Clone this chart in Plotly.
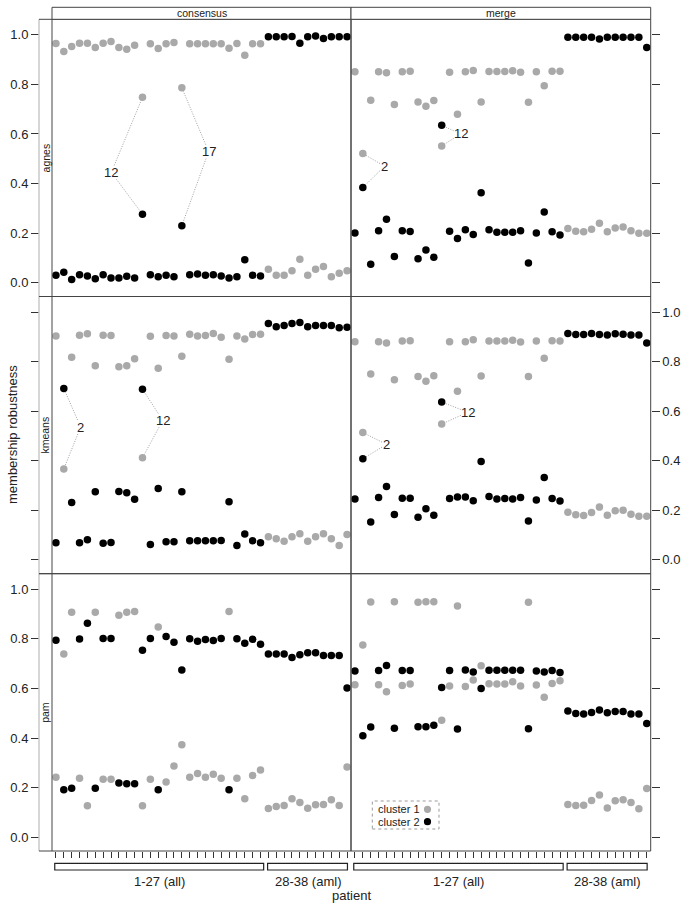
import plotly.graph_objects as go

# ---------------- data ----------------
patients = list(range(1, 39))
methods = ["agnes", "kmeans", "pam"]
variants = ["consensus", "merge"]
group_labels = ["1-27 (all)", "28-38 (aml)"]
group_ranges = [(1, 27), (28, 38)]
yticks = [0.0, 0.2, 0.4, 0.6, 0.8, 1.0]

agnes_consensus_c1 = [0.965, 0.933, 0.953, 0.966, 0.966, 0.949, 0.966, 0.973, 0.949, 0.942, 0.958, 0.748,
                      0.964, 0.945, 0.964, 0.969, 0.787, 0.964, 0.964, 0.964, 0.964, 0.964, 0.946, 0.965,
                      0.918, 0.964, 0.964,
                      0.054, 0.030, 0.030, 0.048, 0.094, 0.030, 0.054, 0.065, 0.024, 0.038, 0.048]
agnes_consensus_c2 = [0.030, 0.042, 0.013, 0.032, 0.027, 0.016, 0.032, 0.019, 0.019, 0.026, 0.019, 0.276,
                      0.032, 0.024, 0.030, 0.024, 0.230, 0.032, 0.035, 0.030, 0.032, 0.027, 0.019, 0.024,
                      0.092, 0.030, 0.027,
                      0.993, 0.993, 0.993, 0.994, 0.966, 0.993, 0.996, 0.985, 0.993, 0.993, 0.993]
agnes_merge_c1 = [0.851, 0.521, 0.736, 0.851, 0.847, 0.719, 0.851, 0.853, 0.729, 0.712, 0.735, 0.552,
                  0.849, 0.680, 0.851, 0.856, 0.729, 0.852, 0.852, 0.852, 0.855, 0.849, 0.728, 0.851,
                  0.795, 0.853, 0.853,
                  0.218, 0.207, 0.205, 0.215, 0.240, 0.205, 0.221, 0.225, 0.209, 0.199, 0.199]
agnes_merge_c2 = [0.200, 0.384, 0.074, 0.209, 0.256, 0.105, 0.209, 0.206, 0.096, 0.132, 0.102, 0.635,
                  0.207, 0.178, 0.213, 0.194, 0.363, 0.213, 0.203, 0.203, 0.203, 0.209, 0.079, 0.200,
                  0.285, 0.205, 0.192,
                  0.991, 0.991, 0.991, 0.991, 0.983, 0.991, 0.991, 0.991, 0.991, 0.991, 0.949]
kmeans_consensus_c1 = [0.904, 0.367, 0.818, 0.907, 0.913, 0.783, 0.907, 0.906, 0.779, 0.783, 0.812, 0.412,
                       0.903, 0.773, 0.906, 0.904, 0.822, 0.911, 0.904, 0.906, 0.914, 0.898, 0.810, 0.904,
                       0.891, 0.910, 0.911,
                       0.093, 0.085, 0.075, 0.093, 0.105, 0.075, 0.093, 0.105, 0.085, 0.058, 0.102]
kmeans_consensus_c2 = [0.069, 0.692, 0.231, 0.069, 0.081, 0.275, 0.067, 0.070, 0.276, 0.271, 0.245, 0.689,
                       0.062, 0.288, 0.073, 0.073, 0.275, 0.077, 0.077, 0.077, 0.077, 0.078, 0.234, 0.058,
                       0.104, 0.077, 0.069,
                       0.954, 0.941, 0.946, 0.954, 0.958, 0.941, 0.946, 0.946, 0.946, 0.937, 0.939]
kmeans_merge_c1 = [0.880, 0.514, 0.750, 0.880, 0.875, 0.727, 0.883, 0.884, 0.740, 0.721, 0.743, 0.548,
                   0.880, 0.681, 0.880, 0.888, 0.742, 0.883, 0.883, 0.883, 0.886, 0.879, 0.740, 0.883,
                   0.814, 0.884, 0.883,
                   0.192, 0.182, 0.179, 0.191, 0.213, 0.180, 0.198, 0.200, 0.184, 0.176, 0.176]
kmeans_merge_c2 = [0.246, 0.408, 0.153, 0.252, 0.296, 0.183, 0.249, 0.249, 0.172, 0.206, 0.180, 0.637,
                   0.248, 0.254, 0.254, 0.238, 0.397, 0.256, 0.246, 0.248, 0.246, 0.252, 0.157, 0.242,
                   0.332, 0.248, 0.237,
                   0.914, 0.910, 0.910, 0.914, 0.910, 0.908, 0.913, 0.911, 0.908, 0.908, 0.875]
pam_consensus_c1 = [0.242, 0.739, 0.907, 0.238, 0.127, 0.907, 0.234, 0.234, 0.895, 0.907, 0.910, 0.127,
                    0.234, 0.848, 0.222, 0.287, 0.373, 0.242, 0.257, 0.242, 0.254, 0.238, 0.910, 0.238,
                    0.155, 0.249, 0.271,
                    0.116, 0.124, 0.128, 0.155, 0.140, 0.117, 0.131, 0.132, 0.151, 0.128, 0.283]
pam_consensus_c2 = [0.794, 0.191, 0.197, 0.799, 0.863, 0.197, 0.802, 0.802, 0.218, 0.215, 0.215, 0.754,
                    0.802, 0.191, 0.810, 0.786, 0.674, 0.801, 0.790, 0.797, 0.793, 0.802, 0.191, 0.801,
                    0.782, 0.798, 0.778,
                    0.739, 0.739, 0.739, 0.725, 0.736, 0.744, 0.744, 0.733, 0.733, 0.733, 0.602]
pam_merge_c1 = [0.615, 0.775, 0.949, 0.615, 0.587, 0.950, 0.612, 0.618, 0.948, 0.950, 0.950, 0.472,
                0.610, 0.933, 0.608, 0.634, 0.692, 0.619, 0.618, 0.618, 0.627, 0.610, 0.948, 0.614,
                0.564, 0.620, 0.631,
                0.132, 0.128, 0.129, 0.148, 0.170, 0.118, 0.147, 0.151, 0.140, 0.114, 0.196]
pam_merge_c2 = [0.670, 0.409, 0.444, 0.672, 0.693, 0.439, 0.672, 0.672, 0.445, 0.445, 0.451, 0.604,
                0.672, 0.436, 0.674, 0.666, 0.600, 0.673, 0.673, 0.673, 0.673, 0.673, 0.437, 0.670,
                0.666, 0.672, 0.664,
                0.509, 0.499, 0.497, 0.503, 0.513, 0.502, 0.507, 0.507, 0.497, 0.497, 0.459]

panel_data = {
    ("agnes", "consensus"): (agnes_consensus_c1, agnes_consensus_c2),
    ("agnes", "merge"): (agnes_merge_c1, agnes_merge_c2),
    ("kmeans", "consensus"): (kmeans_consensus_c1, kmeans_consensus_c2),
    ("kmeans", "merge"): (kmeans_merge_c1, kmeans_merge_c2),
    ("pam", "consensus"): (pam_consensus_c1, pam_consensus_c2),
    ("pam", "merge"): (pam_merge_c1, pam_merge_c2),
}

# labelled patients: (method, variant, patient)
labelled = [("agnes", "consensus", 12), ("agnes", "consensus", 17),
            ("agnes", "merge", 2), ("agnes", "merge", 12),
            ("kmeans", "consensus", 2), ("kmeans", "consensus", 12),
            ("kmeans", "merge", 2), ("kmeans", "merge", 12)]
# where each label text sits (layout, not data)
label_pos = {("agnes", "consensus", 12): (8.04, 0.445), ("agnes", "consensus", 17): (20.4, 0.529),
             ("agnes", "merge", 2): (4.75, 0.47), ("agnes", "merge", 12): (14.4, 0.60),
             ("kmeans", "consensus", 2): (4.14, 0.536), ("kmeans", "consensus", 12): (14.57, 0.563),
             ("kmeans", "merge", 2): (5.0, 0.466), ("kmeans", "merge", 12): (15.3, 0.596)}

# ---------------- layout ----------------
W, H = 685, 909
GRAY = "#a9a9a9"
FRAME = "#444444"
FONT = "Liberation Sans, Arial, sans-serif"


def pxx(x):
    return x / W


def pxy(y):
    return 1 - y / H


def note(**kw):
    d = dict(showarrow=False, xanchor="center", yanchor="middle")
    d.update(kw)
    return d


col_px = [(52, 351), (351, 650.7)]
row_px = [(19.3, 296.5), (296.5, 573.7), (573.7, 851)]
XR = [0.5, 38.5]
YR = [-0.056, 1.063]
x_ppu = (col_px[0][1] - col_px[0][0]) / (XR[1] - XR[0])
y_ppu = (row_px[0][1] - row_px[0][0]) / (YR[1] - YR[0])

fig = go.Figure()
layout = {}
shapes = []
annotations = []

for r, m in enumerate(methods):
    for c, v in enumerate(variants):
        k = r * 2 + c + 1
        sfx = "" if k == 1 else str(k)
        xn, yn = "x" + sfx, "y" + sfx
        c1, c2 = panel_data[(m, v)]
        fig.add_trace(go.Scatter(x=patients, y=c1, mode="markers", name="cluster 1",
                                 marker=dict(color=GRAY, size=7.5, line=dict(width=0)),
                                 xaxis=xn, yaxis=yn, showlegend=False))
        fig.add_trace(go.Scatter(x=patients, y=c2, mode="markers", name="cluster 2",
                                 marker=dict(color="black", size=7.5, line=dict(width=0)),
                                 xaxis=xn, yaxis=yn, showlegend=False))

        layout["xaxis" + sfx] = dict(
            domain=[pxx(col_px[c][0]), pxx(col_px[c][1])], range=XR, anchor=yn,
            showgrid=False, zeroline=False, showticklabels=False, showline=False,
            ticks="outside" if r == 2 else "", tickvals=patients, ticklen=6,
            tickcolor="#333", tickwidth=1)
        yd = dict(domain=[pxy(row_px[r][1]), pxy(row_px[r][0])], range=YR,
                  showgrid=False, zeroline=False, showline=False,
                  tickvals=yticks, tickformat=".1f", ticks="outside", ticklen=8,
                  tickcolor="#333", tickwidth=1,
                  tickfont=dict(size=13, color="#222", family=FONT))
        if c == 0:
            yd.update(anchor="free", position=pxx(39), side="left", showticklabels=(r != 1))
        else:
            yd.update(anchor=xn, side="right", showticklabels=(r == 1))
        layout["yaxis" + sfx] = yd

        # panel frame
        shapes.append(dict(type="rect", xref="paper", yref="paper",
                           x0=pxx(col_px[c][0]), x1=pxx(col_px[c][1]),
                           y0=pxy(row_px[r][1]), y1=pxy(row_px[r][0]),
                           line=dict(color=FRAME, width=1)))

        # labels with dotted leader lines
        for (mm, vv, p) in labelled:
            if mm != m or vv != v:
                continue
            lx, ly = label_pos[(mm, vv, p)]
            txt = str(p)
            hw = 7 if len(txt) > 1 else 4.5
            hh = 7
            for series in (c1, c2):
                vy = series[p - 1]
                dxp = (p - lx) * x_ppu
                dyp = (vy - ly) * y_ppu
                t = min(hw / abs(dxp) if dxp else 1e9, hh / abs(dyp) if dyp else 1e9)
                sx = lx + t * dxp / x_ppu
                sy = ly + t * dyp / y_ppu
                shapes.append(dict(type="line", xref=xn, yref=yn, x0=sx, y0=sy, x1=p, y1=vy,
                                   line=dict(color="#a0a0a0", width=1, dash="1px,1.5px"),
                                   layer="below"))
            annotations.append(note(x=lx, y=ly, xref=xn, yref=yn, text=txt,
                                    font=dict(size=13, color="#222", family=FONT)))

# top strips
for c, v in enumerate(variants):
    shapes.append(dict(type="rect", xref="paper", yref="paper",
                       x0=pxx(col_px[c][0]), x1=pxx(col_px[c][1]), y0=pxy(19.3), y1=pxy(7.3),
                       line=dict(color=FRAME, width=1), fillcolor="white"))
    annotations.append(note(x=pxx((col_px[c][0] + col_px[c][1]) / 2), y=pxy(13.3),
                            xref="paper", yref="paper", text=v,
                            font=dict(size=10.5, color="#222", family=FONT)))

# left strips
shapes.append(dict(type="line", xref="paper", yref="paper", x0=pxx(39), x1=pxx(39),
                   y0=pxy(row_px[2][1]), y1=pxy(row_px[0][0]),
                   line=dict(color="#c8c8c8", width=1.5)))
for r, m in enumerate(methods):
    for yy in row_px[r]:
        shapes.append(dict(type="line", xref="paper", yref="paper", x0=pxx(39), x1=pxx(52),
                           y0=pxy(yy), y1=pxy(yy), line=dict(color=FRAME, width=1)))
    annotations.append(note(x=pxx(45.5), y=pxy((row_px[r][0] + row_px[r][1]) / 2),
                            xref="paper", yref="paper", text=m, textangle=-90,
                            font=dict(size=10.5, color="#222", family=FONT)))

# group brackets under the patient axis
bracket_span = [(0.85, 27.4), (27.9, 38.05)]
for c in range(2):
    xn = "x" + str(5 + c)
    for (a, b), lab in zip(bracket_span, group_labels):
        shapes.append(dict(type="rect", xref=xn, yref="paper", x0=a, x1=b,
                           y0=pxy(870), y1=pxy(863.3), line=dict(color="#222", width=1.2)))
        annotations.append(note(x=(a + b) / 2, y=pxy(881.5), xref=xn, yref="paper", text=lab,
                                font=dict(size=13, color="#222", family=FONT)))

annotations.append(note(x=pxx(351), y=pxy(895.5), xref="paper", yref="paper", text="patient",
                        font=dict(size=13, color="#222", family=FONT)))
annotations.append(note(x=pxx(12), y=pxy(435), xref="paper", yref="paper",
                        text="membership robustness", textangle=-90,
                        font=dict(size=13, color="#222", family=FONT)))

# manual key (text left, dot right)
shapes.append(dict(type="rect", xref="paper", yref="paper", x0=pxx(372.3), x1=pxx(439),
                   y0=pxy(829), y1=pxy(801), line=dict(color="#999", width=1, dash="dot"),
                   fillcolor="white"))
for i, (lab, col) in enumerate([("cluster 1", GRAY), ("cluster 2", "black")]):
    yy = 809.3 + i * 12.4
    annotations.append(note(x=pxx(422), y=pxy(yy), xref="paper", yref="paper", text=lab,
                            xanchor="right",
                            font=dict(size=11, color="#222", family=FONT)))
    shapes.append(dict(type="circle", xref="paper", yref="paper", xsizemode="pixel",
                       ysizemode="pixel", xanchor=pxx(427.5), yanchor=pxy(yy),
                       x0=-3.6, x1=3.6, y0=-3.6, y1=3.6, fillcolor=col, line=dict(width=0)))

fig.update_layout(**layout)
fig.update_layout(width=W, height=H, autosize=False,
                  margin=dict(l=0, r=0, t=0, b=0, pad=0),
                  paper_bgcolor="white", plot_bgcolor="white",
                  shapes=shapes, annotations=annotations,
                  font=dict(family=FONT, color="#222"), showlegend=False)

fig.write_html("out.html", config={"displayModeBar": False},
               post_script="document.body.style.margin='0px';")
